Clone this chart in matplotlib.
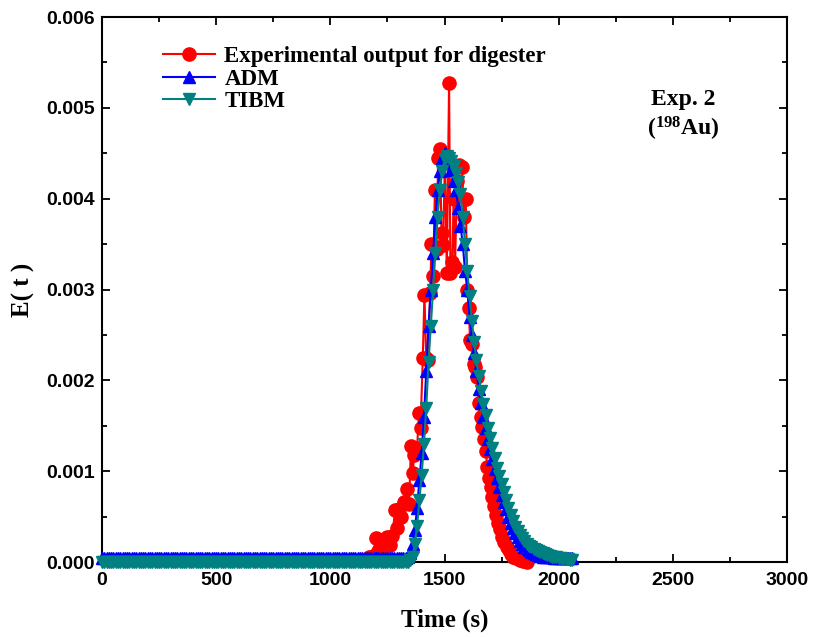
import matplotlib
matplotlib.use("Agg")
import matplotlib.pyplot as plt
from matplotlib.ticker import MultipleLocator, FormatStrFormatter
import numpy as np

# experimental tracer data (198Au, exp. 2)
exp_t = [1150, 1170, 1185, 1200, 1210, 1220, 1235, 1250, 1262, 1272,
         1283, 1292, 1300, 1310, 1322, 1336, 1345, 1353, 1360, 1368,
         1380, 1388, 1395, 1405, 1412, 1420, 1428, 1437, 1443, 1450,
         1458, 1465, 1472, 1480, 1487, 1494, 1502, 1510, 1520, 1526,
         1534, 1540, 1546, 1555, 1565, 1577, 1585, 1593, 1600, 1606,
         1612, 1620, 1628, 1635, 1642, 1650, 1658, 1665, 1672, 1680,
         1688, 1695, 1702, 1710, 1718, 1726, 1735, 1744, 1753, 1762,
         1772, 1782, 1792, 1802, 1815, 1830, 1845, 1860]
exp_E = [0.00002, 0.00005, 0.00007, 0.00026, 0.00012, 0.00024, 0.00015, 0.00027, 0.00019, 0.00029,
         0.00057, 0.00038, 0.00058, 0.00050, 0.00066, 0.00080, 0.00064, 0.00128, 0.00098, 0.00118,
         0.00126, 0.00164, 0.00148, 0.00225, 0.00294, 0.00225, 0.00222, 0.00296, 0.00350, 0.00315,
         0.00410, 0.00345, 0.00445, 0.00455, 0.00362, 0.00349, 0.00445, 0.00318, 0.00527, 0.00318,
         0.00330, 0.00400, 0.00325, 0.00420, 0.00437, 0.00435, 0.00380, 0.00400, 0.00300, 0.00280,
         0.00244, 0.00240, 0.00218, 0.00215, 0.00204, 0.00175, 0.00160, 0.00149, 0.00135, 0.00122,
         0.00105, 0.00092, 0.00083, 0.00072, 0.00062, 0.00052, 0.00043, 0.00036, 0.00028, 0.00022,
         0.00017, 0.00013, 0.00009, 0.00006, 0.00004, 0.00002, 0.00001, 0.0]

# model curves, sampled every 10 s from 0 to 2060 s
model_t = np.arange(0, 2070, 10)
adm_E = [0.00004] * 133 + [
    0.00004, 0.00006, 0.0001, 0.0002, 0.00035, 0.0006, 0.0009, 0.0012, 0.0016, 0.0021,
    0.0026, 0.0030, 0.0034, 0.0038, 0.0041, 0.0043, 0.00445, 0.0045,
    0.00445, 0.0044, 0.00432, 0.0042, 0.0041, 0.0039, 0.0037, 0.0035, 0.0032, 0.0030,
    0.0027, 0.0025, 0.0023, 0.0021, 0.0019,
    0.00175, 0.0016, 0.00148, 0.00135, 0.00124, 0.00113, 0.00102, 0.00092, 0.00083, 0.00074,
    0.00066, 0.00058, 0.0005, 0.00043, 0.00037,
    0.00032, 0.00027, 0.00023, 0.0002, 0.00017, 0.00015, 0.00013, 0.00011, 0.0001, 0.00009,
    0.00008, 0.00007, 0.00006, 0.00006, 0.00005,
    0.00005, 0.00005, 0.00004, 0.00004, 0.00004, 0.00004, 0.00004, 0.00004, 0.00004, 0.00004, 0.00004]
tibm_E = [0.0] * 133 + [
    0.0, 0.0, 0.00002, 0.00006, 0.0002, 0.0004, 0.00068, 0.00096, 0.0013, 0.0017,
    0.0022, 0.0026, 0.0030, 0.0034, 0.0038, 0.0041, 0.0043, 0.00444,
    0.00447, 0.00445, 0.00441, 0.00436, 0.00428, 0.00418, 0.00405, 0.0038, 0.0035, 0.0032,
    0.00293, 0.00265, 0.00242, 0.00222, 0.00205,
    0.00188, 0.00174, 0.00162, 0.00148, 0.00136, 0.00125, 0.00114, 0.00104, 0.00095, 0.00086,
    0.00077, 0.00068, 0.0006, 0.00052, 0.00045,
    0.00039, 0.00034, 0.0003, 0.00026, 0.00023, 0.0002, 0.00018, 0.00016, 0.00014, 0.00013,
    0.00012, 0.00011, 0.0001, 0.00009, 0.00008,
    0.00007, 0.00006, 0.00005, 0.00005, 0.00004, 0.00004, 0.00003, 0.00003, 0.00003, 0.00002, 0.00002]

serif = "Liberation Serif"
sans = "Liberation Sans"
plt.rcParams["mathtext.fontset"] = "custom"
plt.rcParams["mathtext.rm"] = "Liberation Serif"
plt.rcParams["mathtext.bf"] = "Liberation Serif:bold"

fig = plt.figure(figsize=(8.24, 6.37), dpi=100)
ax = fig.add_axes([0.1238, 0.1177, 0.8313, 0.8556])

ax.plot(exp_t, exp_E, color="#ff0000", marker="o", markersize=9.5, lw=1.5,
        label="Experimental output for digester", clip_on=False, zorder=3)
ax.plot(model_t, adm_E, color="#0000ff", marker="^", markersize=8.5, lw=1.5,
        label="ADM", clip_on=False, zorder=4)
ax.plot(model_t, tibm_E, color="#008080", marker="v", markersize=8.5, lw=1.5,
        label="TIBM", clip_on=False, zorder=5)

ax.set_xlim(0, 3000)
ax.set_ylim(0, 0.006)
ax.xaxis.set_major_locator(MultipleLocator(500))
ax.xaxis.set_minor_locator(MultipleLocator(250))
ax.yaxis.set_major_locator(MultipleLocator(0.001))
ax.yaxis.set_minor_locator(MultipleLocator(0.0005))
ax.yaxis.set_major_formatter(FormatStrFormatter("%.3f"))
ax.tick_params(which="both", direction="in", top=True, right=True, width=1.3)
ax.tick_params(which="major", length=6)
ax.tick_params(which="minor", length=3.5)
ax.tick_params(axis="x", which="major", pad=7)
ax.tick_params(axis="y", which="major", pad=5)
for lab in ax.get_xticklabels() + ax.get_yticklabels():
    lab.set_fontfamily(sans)
    lab.set_fontweight("bold")
    lab.set_fontsize(14)
for sp in ax.spines.values():
    sp.set_linewidth(1.5)

ax.set_xlabel("Time (s)", fontfamily=serif, fontweight="bold", fontsize=18, labelpad=14)
ax.set_ylabel("E( t )", fontfamily=serif, fontweight="bold", fontsize=18, labelpad=8)

ax.legend(loc="upper left", bbox_to_anchor=(0.075, 0.963), frameon=False,
          prop={"family": serif, "weight": "bold", "size": 16.5},
          handlelength=2.3, handletextpad=0.4, labelspacing=0.05, borderaxespad=0)

ax.text(2545, 0.00509, "Exp. 2", fontfamily=serif, fontweight="bold", fontsize=17,
        ha="center", va="center")
ax.text(2545, 0.00477, r"($\mathbf{^{198}}$Au)", fontfamily=serif, fontweight="bold",
        fontsize=17, ha="center", va="center")

fig.savefig("out.png", dpi=100)
